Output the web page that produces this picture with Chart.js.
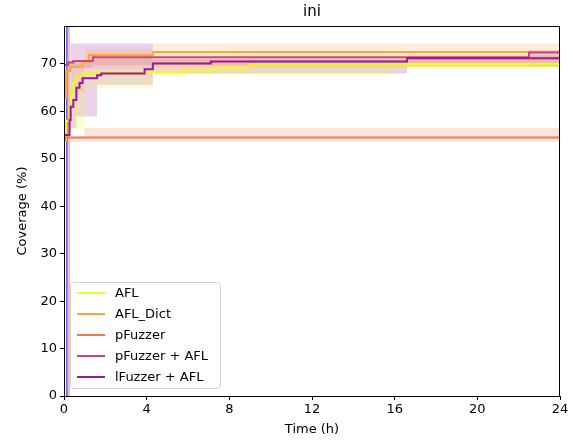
<!DOCTYPE html>
<html><head><meta charset="utf-8">
<script src="https://cdn.jsdelivr.net/npm/chart.js@4.4.1/dist/chart.umd.min.js"></script>
<style>html,body{margin:0;padding:0;background:#fff}#wrap{width:573px;height:442px}</style>
</head><body><div id="wrap"><canvas id="c" width="573" height="442"></canvas></div>
<script>
// ---- data (time in hours, coverage in %) ----
const seriesNames = ["AFL", "AFL_Dict", "pFuzzer", "pFuzzer + AFL", "lFuzzer + AFL"];
const seriesColors = ["#f0f921", "#fca636", "#ed7953", "#cc4778", "#9c179e"];

const aflT = [0, 0.1, 0.25, 0.35, 0.45, 0.6, 0.9, 1.6, 5.7, 7.2, 9.0, 15.9, 24];
const aflV = [0, 54, 58, 61, 64, 66, 67.3, 68, 68.3, 68.8, 69.2, 70.0, 70.0];

const dictT = [0, 0.1, 0.3, 0.9, 1.2, 4.3, 5.7, 24];
const dictV = [0, 63, 68.5, 69.4, 70.4, 71.9, 72.5, 72.5];

const pfT = [0, 0.05, 1.0, 24];
const pfV = [0, 54.0, 54.5, 54.5];

const pfAflT = [0, 0.2, 0.45, 1.4, 22.5, 22.8, 24];
const pfAflV = [0, 69.8, 70.3, 70.6, 71.4, 72.4, 72.4];

const lfT = [0, 0.27, 0.32, 0.45, 0.6, 0.75, 0.9, 1.6, 1.8, 3.9, 4.3, 7.1, 16.6, 18.5, 24];
const lfV = [0, 55, 58.2, 61, 62.4, 65, 66, 67.0, 67.6, 68.0, 68.9, 70.1, 70.5, 71.2, 71.2];

// confidence bands
const aflBandT = [0.3, 1.0, 4.3, 16.0, 24];
const aflBandLo = [56, 65, 67.5, 69, 69];
const aflBandHi = [66, 69, 70, 71, 71];

const dictBandT = [0.3, 1.0, 4.3, 24];
const dictBandLo = [64, 69, 69.2, 69.2];
const dictBandHi = [70, 73.1, 74.3, 74.3];

const pfBandT = [0.05, 1.0, 24];
const pfBandLo = [53.6, 53.6, 53.6];
const pfBandHi = [54.6, 56.5, 56.5];

const pfAflBandT = [0.2, 1.4, 22.5, 24];
const pfAflBandLo = [69.2, 69.8, 69.6, 69.6];
const pfAflBandHi = [70.6, 71.2, 73.0, 73.0];

const lfBandT = [0.3, 0.6, 1.6, 4.3, 16.6, 24];
const lfBandLo = [56.5, 58.9, 65.6, 68.0, 69.5, 69.5];
const lfBandHi = [74.3, 74.3, 74.3, 71.0, 71.8, 71.8];

// vertical start markers
const vlineT = [0.0, 0.14, 0.24];
const vlineColors = ["#4a1830", "#5050f0", "#f4a0b4"];

const xTicks = [0, 4, 8, 12, 16, 20, 24];
const yTicks = [0, 10, 20, 30, 40, 50, 60, 70];
const yMax = 78;

// ---- build datasets ----
const pts = (t, v) => t.map((x, i) => ({x: x, y: v[i]}));
// step-post points (value holds until the next time)
function stepPts(t, v) {
  const out = [];
  for (let i = 0; i < t.length; i++) {
    out.push({x: t[i], y: v[i]});
    if (i + 1 < t.length) out.push({x: t[i + 1], y: v[i]});
  }
  return out;
}
function hexA(h, a){const n=parseInt(h.slice(1),16);return `rgba(${n>>16&255},${n>>8&255},${n&255},${a})`;}

const seriesT = [aflT, dictT, pfT, pfAflT, lfT];
const seriesV = [aflV, dictV, pfV, pfAflV, lfV];
const bandT = [aflBandT, dictBandT, pfBandT, pfAflBandT, lfBandT];
const bandLo = [aflBandLo, dictBandLo, pfBandLo, pfAflBandLo, lfBandLo];
const bandHi = [aflBandHi, dictBandHi, pfBandHi, pfAflBandHi, lfBandHi];

const datasets = [];
for (let i = 0; i < 5; i++) {
  datasets.push({label: "_lo" + i, data: stepPts(bandT[i], bandLo[i]), borderWidth: 0, pointRadius: 0, fill: false, order: 20, borderColor: 'transparent'});
  datasets.push({label: "_hi" + i, data: stepPts(bandT[i], bandHi[i]), borderWidth: 0, pointRadius: 0, fill: '-1', order: 20, borderColor: 'transparent', backgroundColor: hexA(seriesColors[i], 0.2)});
}
vlineT.forEach((t, i) => {
  datasets.push({label: "_v" + i, data: [{x: t, y: 0}, {x: t, y: yMax}], borderColor: vlineColors[i], borderWidth: 1.5, pointRadius: 0, fill: false, order: 10});
});
for (let i = 0; i < 5; i++) {
  datasets.push({label: seriesNames[i], data: pts(seriesT[i], seriesV[i]), borderColor: seriesColors[i], borderWidth: 2, pointRadius: 0, stepped: 'after', fill: false, order: 5 - i});
}

const FONT = "'DejaVu Sans', sans-serif";

const deco = {
  id: 'deco',
  afterDraw(chart) {
    const ctx = chart.ctx, a = chart.chartArea;
    ctx.save();
    // frame
    ctx.strokeStyle = '#000'; ctx.lineWidth = 1;
    ctx.strokeRect(a.left + 0.5, a.top + 0.5, a.right - a.left - 1, a.bottom - a.top);
    // title
    ctx.fillStyle = '#000'; ctx.textAlign = 'center'; ctx.textBaseline = 'middle';
    ctx.font = "15px " + FONT;
    ctx.fillText('ini', (a.left + a.right) / 2, 12);
    // axis titles
    ctx.font = "13px " + FONT;
    ctx.fillText('Time (h)', (a.left + a.right) / 2, 430);
    ctx.save(); ctx.translate(23, (a.top + a.bottom) / 2); ctx.rotate(-Math.PI / 2);
    ctx.fillText('Coverage (%)', 0, 0); ctx.restore();
    // legend
    const lx = 70, ly = 282, lw = 150, lh = 106;
    ctx.beginPath(); ctx.roundRect(lx + 0.5, ly + 0.5, lw, lh, 3);
    ctx.fillStyle = 'rgba(255,255,255,0.8)'; ctx.fill();
    ctx.strokeStyle = '#d0d0d0'; ctx.stroke();
    ctx.textAlign = 'left'; ctx.textBaseline = 'middle'; ctx.font = "13px " + FONT;
    seriesNames.forEach((n, i) => {
      const y = 293 + i * 21;
      ctx.strokeStyle = seriesColors[i]; ctx.lineWidth = 2;
      ctx.beginPath(); ctx.moveTo(77, y); ctx.lineTo(105, y); ctx.stroke();
      ctx.fillStyle = '#000'; ctx.fillText(n, 115, y + 1);
    });
    ctx.restore();
  }
};

new Chart(document.getElementById('c'), {
  type: 'line',
  data: {datasets},
  options: {
    responsive: false, animation: false, devicePixelRatio: 1,
    layout: {padding: {top: 26, right: 13, left: 0, bottom: 0}},
    plugins: {legend: {display: false}, tooltip: {enabled: false}, title: {display: false}},
    scales: {
      x: {
        type: 'linear', min: 0, max: 24,
        afterFit(s) { s.height = 46; },
        afterBuildTicks(s) { s.ticks = xTicks.map(v => ({value: v})); },
        grid: {drawOnChartArea: false, drawTicks: true, tickLength: 4, tickColor: '#000'},
        border: {color: '#000', width: 1},
        ticks: {color: '#000', font: {family: FONT, size: 13}, padding: 2, maxRotation: 0}
      },
      y: {
        type: 'linear', min: 0, max: yMax,
        afterFit(s) { s.width = 64; },
        afterBuildTicks(s) { s.ticks = yTicks.map(v => ({value: v})); },
        grid: {drawOnChartArea: false, drawTicks: true, tickLength: 4, tickColor: '#000'},
        border: {color: '#000', width: 1},
        ticks: {color: '#000', font: {family: FONT, size: 13}, padding: 3}
      }
    }
  },
  plugins: [deco]
});
</script></body></html>
